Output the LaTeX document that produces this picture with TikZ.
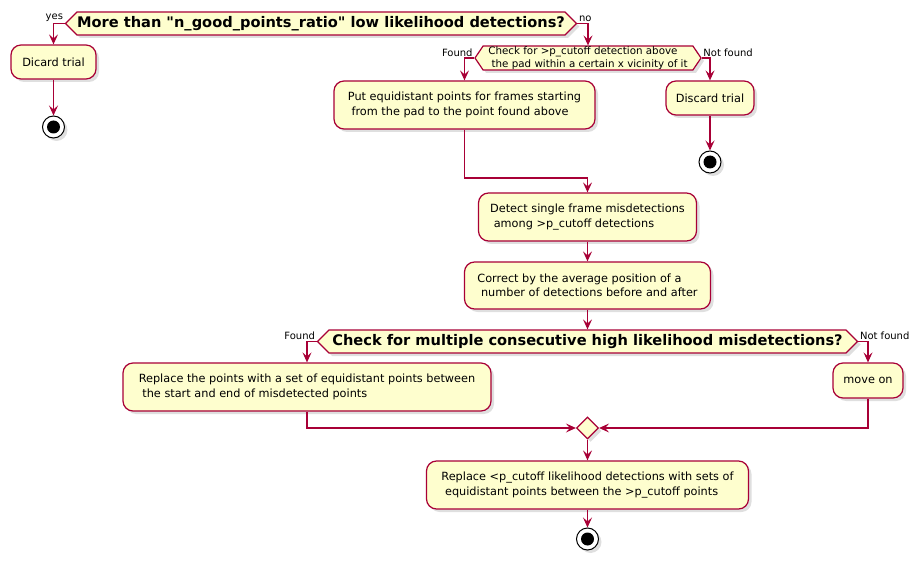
\documentclass[tikz,border=0pt]{standalone}
\usepackage{fontspec}
\setmainfont{DejaVu Sans}
\usetikzlibrary{shapes.symbols,shapes.geometric,shadows,arrows.meta}
\definecolor{umlred}{HTML}{A80036}
\definecolor{umlfill}{HTML}{FEFECE}
\newcommand{\lsp}{\hspace*{0.32em}}

\begin{document}
\begin{tikzpicture}
[
x=1pt,y=-1pt,
shade box/.style={drop shadow={shadow xshift=3pt,shadow yshift=-3pt,opacity=.25}},
action/.style 2 args={draw=umlred,fill=umlfill,line width=1.2pt,rounded corners=10pt,
            align=left,inner sep=0pt,font=\fontsize{11.3}{14.5}\selectfont,
            minimum width=#1,minimum height=#2,shade box},
decision/.style 2 args={signal,signal to=west and east,signal pointer angle=90,
            draw=umlred,fill=umlfill,line width=1.2pt,inner sep=0pt,
            font=\bfseries\fontsize{14.6}{17}\selectfont,
            minimum width=#1,minimum height=#2,shade box},
merge/.style={diamond,draw=umlred,fill=umlfill,line width=1.2pt,inner sep=0pt,
            minimum width=22pt,minimum height=22pt,shade box},
stop/.style={circle,draw=black,fill=white,line width=1pt,inner sep=0pt,minimum size=22pt,shade box,
            path picture={\fill[black] (path picture bounding box.center) circle (6.5pt);}},
branch/.style={inner sep=1.5pt,font=\fontsize{10}{12}\selectfont},
flow/.style={draw=umlred,line width=1.1pt,-{Stealth[length=10pt,width=9pt,inset=4pt]}},
]
\useasboundingbox (0,0) rectangle (922,567);

%Place the nodes
\node[decision={510}{23}] (dec1) at (321,23.5) {More than \textquotedbl n\_good\_points\_ratio\textquotedbl{} low likelihood detections?};
\node[action={85}{34}] (dicard) at (53.5,62) {Dicard trial};
\node[stop] (stop1) at (53.5,127) {};
\node[decision={226}{24},signal pointer angle=112,font=\fontsize{10.3}{12.6}\selectfont,align=left] (dec2) at (588,58)
      {Check for >p\_cutoff detection above\\\lsp the pad within a certain x vicinity of it};
\node[action={261}{48}] (put) at (464.5,105) {Put equidistant points for frames starting\\\lsp from the pad to the point found above};
\node[action={88}{34}] (discard) at (710,98) {Discard trial};
\node[stop] (stop2) at (710,162) {};
\node[action={218}{48}] (detect) at (587.5,217) {Detect single frame misdetections\\\lsp among >p\_cutoff detections};
\node[action={246}{47}] (correct) at (587.5,285.5) {Correct by the average position of a\\\lsp number of detections before and after};
\node[decision={540}{23}] (dec3) at (587.5,341.5) {Check for multiple consecutive high likelihood misdetections?};
\node[action={368}{48}] (replpts) at (307,387) {Replace the points with a set of equidistant points between\\\lsp the start and end of misdetected points};
\node[action={70}{35}] (moveon) at (868,380.5) {move on};
\node[merge] (join) at (587.5,428) {};
\node[action={322}{48}] (replcut) at (587.5,485) {Replace <p\_cutoff likelihood detections with sets of\\\lsp equidistant points between the >p\_cutoff points};
\node[stop] (stop3) at (587.5,539) {};
\coordinate (bend) at (detect.north |- 0,178);
%Branch labels
\node[branch,anchor=south east] (yes) at (dec1.west) {yes};
\node[branch,anchor=south west] (no) at (dec1.east) {no};
\node[branch,anchor=south east] (found1) at (dec2.west) {Found};
\node[branch,anchor=south west] (notfound1) at (dec2.east) {Not found};
\node[branch,anchor=south east] (found2) at (dec3.west) {Found};
\node[branch,anchor=south west] (notfound2) at (dec3.east) {Not found};

%Draw the connections
\draw[flow] (dec1.west) -| (dicard.north);
\draw[flow] (dicard.south) -- (stop1.north);
\draw[flow] (dec1.east) -| (dec2.north);
\draw[flow] (dec2.west) -| (put.north);
\draw[flow] (dec2.east) -| (discard.north);
\draw[flow] (discard.south) -- (stop2.north);
\draw[flow] (put.south) |- (bend) -- (detect.north);
\draw[flow] (detect.south) -- (correct.north);
\draw[flow] (correct.south) -- (dec3.north);
\draw[flow] (dec3.west) -| (replpts.north);
\draw[flow] (dec3.east) -| (moveon.north);
\draw[flow] (replpts.south) |- (join.west);
\draw[flow] (moveon.south) |- (join.east);
\draw[flow] (join.south) -- (replcut.north);
\draw[flow] (replcut.south) -- (stop3.north);
\end{tikzpicture}
\end{document}
